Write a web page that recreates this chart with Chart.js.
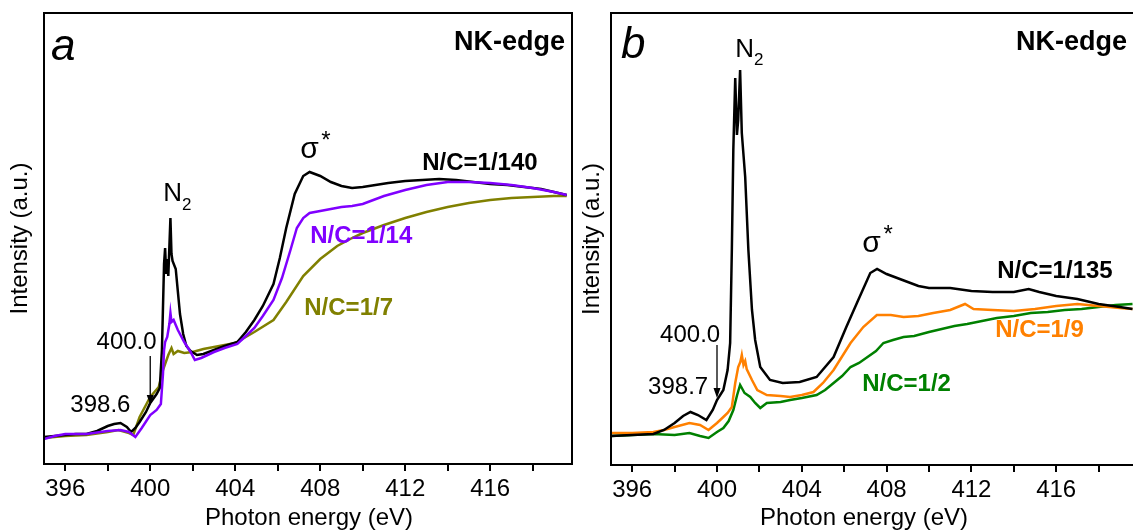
<!DOCTYPE html>
<html>
<head>
<meta charset="utf-8">
<script src="https://cdn.jsdelivr.net/npm/chart.js@4.4.0/dist/chart.umd.min.js"></script>
<style>
  html, body { margin: 0; padding: 0; background: #fff; overflow: hidden; width: 1133px; height: 531px; }
  #wa { position: absolute; left: 0; top: 0; width: 580px; height: 531px; }
  #wb { position: absolute; left: 580px; top: 0; width: 570px; height: 531px; }
</style>
</head>
<body>
<div id="wa"><canvas id="ca"></canvas></div>
<div id="wb"><canvas id="cb"></canvas></div>
<script>
// x axis ticks (eV): labelled and unlabelled
const labelTicks = [396, 400, 404, 408, 412, 416];
const minorTicks = [398, 402, 406, 410, 414, 418];

// panel a: N/C = 1/140, 1/14, 1/7
const a140E = [395.0,395.5,396.0,396.5,397.0,397.5,398.0,398.3,398.6,398.9,399.1,399.3,399.5,399.8,400.0,400.3,400.45,400.55,400.65,400.7,400.75,400.8,400.85,400.95,401.0,401.05,401.2,401.4,401.55,401.7,401.9,402.2,402.5,403.0,403.5,404.1,404.5,404.9,405.3,405.8,406.1,406.4,406.8,407.2,407.5,408.0,408.5,409.0,409.5,410.0,410.6,411.2,412.0,412.8,413.6,414.4,415.2,416.0,416.8,417.6,418.4,419.0,419.6];
const a140I = [0.27,0.28,0.29,0.30,0.30,0.33,0.38,0.40,0.41,0.37,0.32,0.36,0.42,0.52,0.61,0.70,0.76,1.14,2.00,2.16,1.90,2.05,1.88,2.46,2.10,2.03,1.95,1.50,1.30,1.18,1.13,1.09,1.10,1.14,1.18,1.22,1.32,1.44,1.58,1.80,2.06,2.36,2.70,2.88,2.92,2.88,2.82,2.78,2.76,2.77,2.79,2.81,2.83,2.84,2.85,2.84,2.82,2.80,2.79,2.77,2.75,2.72,2.69];

const a14E = [395.0,395.5,396.0,397.0,398.0,398.6,399.0,399.3,399.6,400.0,400.3,400.5,400.6,400.65,400.7,400.8,400.9,400.95,401.0,401.1,401.3,401.6,401.9,402.1,402.4,403.0,403.5,404.1,404.5,404.9,405.3,405.8,406.2,406.6,406.9,407.2,407.5,408.0,408.5,409.0,409.5,410.0,410.5,411.0,411.5,412.0,413.0,414.0,415.0,416.0,417.0,418.0,419.0,419.6];
const a14I = [0.25,0.28,0.30,0.30,0.33,0.34,0.32,0.27,0.36,0.49,0.54,0.60,0.90,1.14,1.22,1.27,1.40,1.51,1.42,1.44,1.34,1.22,1.12,1.04,1.06,1.12,1.16,1.20,1.28,1.36,1.48,1.64,1.86,2.14,2.36,2.46,2.51,2.53,2.55,2.57,2.58,2.60,2.64,2.68,2.71,2.74,2.79,2.82,2.82,2.81,2.79,2.76,2.72,2.69];

const a7E = [395.0,396.0,397.0,398.0,398.5,399.0,399.2,399.5,400.0,400.4,400.6,400.85,401.0,401.1,401.3,401.6,402.0,402.5,403.0,403.5,404.0,404.9,405.8,406.4,407.2,408.0,408.8,409.5,410.0,411.0,412.0,413.0,414.0,415.0,416.0,417.0,418.0,419.0,419.6];
const a7I = [0.26,0.28,0.29,0.32,0.34,0.31,0.29,0.47,0.67,0.77,0.94,1.09,1.16,1.10,1.13,1.11,1.12,1.15,1.17,1.19,1.21,1.32,1.44,1.62,1.88,2.05,2.18,2.26,2.31,2.39,2.46,2.52,2.57,2.61,2.64,2.66,2.67,2.68,2.68];

// panel b: N/C = 1/135, 1/9, 1/2
const b135E = [395.0,396.0,397.0,397.5,398.0,398.4,398.75,399.1,399.5,399.8,400.0,400.3,400.5,400.62,400.7,400.77,400.86,400.94,401.0,401.09,401.17,401.33,401.48,401.65,401.8,402.04,402.5,403.1,403.9,404.7,405.5,406.1,406.6,407.23,407.55,408.0,408.5,409.0,409.5,410.0,411.0,412.0,413.0,414.0,414.7,415.2,416.0,417.0,418.0,419.0,419.6];
const b135I = [0.29,0.30,0.31,0.35,0.42,0.49,0.53,0.50,0.45,0.55,0.65,0.75,0.95,1.22,2.15,3.15,3.87,3.30,3.45,3.95,3.32,2.88,2.15,1.55,1.25,0.98,0.85,0.82,0.83,0.88,1.08,1.38,1.62,1.92,1.96,1.91,1.87,1.83,1.79,1.77,1.77,1.74,1.73,1.73,1.76,1.73,1.69,1.66,1.61,1.58,1.56];

const b9E = [395.0,396.0,397.0,397.5,398.0,398.7,399.2,399.6,400.0,400.3,400.5,400.7,400.86,401.0,401.1,401.17,401.25,401.33,401.4,401.65,401.9,402.35,403.0,403.45,404.0,404.55,405.0,405.5,406.3,406.9,407.54,408.2,408.8,409.5,410.2,411.0,411.7,412.1,413.0,414.0,415.0,416.0,417.0,418.0,419.0,419.6];
const b9I = [0.32,0.32,0.33,0.35,0.38,0.42,0.40,0.35,0.42,0.48,0.52,0.58,0.82,0.98,1.03,1.10,1.00,1.04,0.96,0.85,0.75,0.70,0.69,0.68,0.70,0.73,0.82,0.95,1.22,1.38,1.50,1.50,1.48,1.49,1.52,1.55,1.61,1.56,1.55,1.54,1.56,1.59,1.61,1.59,1.57,1.56];

const b2E = [395.0,396.0,397.0,398.0,398.7,399.2,399.6,400.0,400.3,400.55,400.77,400.95,401.09,401.3,401.57,401.8,402.04,402.35,403.0,403.45,404.0,404.7,405.1,405.5,405.9,406.3,406.7,407.1,407.5,407.85,408.3,408.8,409.3,410.0,410.6,411.2,411.8,412.5,413.2,414.0,414.8,415.6,416.4,417.2,418.0,418.8,419.6];
const b2I = [0.29,0.30,0.31,0.30,0.32,0.29,0.27,0.33,0.37,0.44,0.55,0.70,0.80,0.72,0.68,0.62,0.57,0.62,0.63,0.65,0.67,0.70,0.75,0.82,0.89,0.98,1.02,1.08,1.14,1.22,1.25,1.28,1.29,1.33,1.36,1.39,1.41,1.44,1.47,1.49,1.52,1.53,1.55,1.56,1.58,1.60,1.61];

const FONT = '"Liberation Sans", Arial, sans-serif';

const pts = (xs, ys) => xs.map((x, i) => ({ x: x, y: ys[i] }));
const series = (xs, ys, color) => ({ data: pts(xs, ys), borderColor: color, borderWidth: 2.5, pointRadius: 0, tension: 0, fill: false });
const allTicks = labelTicks.concat(minorTicks).sort((p, q) => p - q);

function decorations(cfg) {
  return {
    id: 'decorations',
    afterDraw(chart) {
      const { ctx, chartArea: ca, scales } = chart;
      ctx.save();
      // frame
      ctx.strokeStyle = '#000';
      ctx.lineWidth = 2;
      ctx.strokeRect(ca.left, ca.top, ca.right - ca.left, ca.bottom - ca.top);
      // axis titles
      ctx.fillStyle = '#000';
      ctx.font = '24px ' + FONT;
      ctx.textAlign = 'center';
      ctx.textBaseline = 'alphabetic';
      ctx.fillText('Photon energy (eV)', cfg.xTitleX, 525);
      ctx.save();
      ctx.translate(cfg.yTitleX, (ca.top + ca.bottom) / 2);
      ctx.rotate(-Math.PI / 2);
      ctx.textBaseline = 'middle';
      ctx.fillText('Intensity (a.u.)', 0, 0);
      ctx.restore();
      // text notes
      cfg.notes.forEach(n => {
        ctx.font = n.font;
        ctx.fillStyle = n.color || '#000';
        ctx.textAlign = n.align || 'left';
        ctx.textBaseline = 'alphabetic';
        const px = n.px != null ? n.px : scales.x.getPixelForValue(n.x);
        const py = n.py != null ? n.py : scales.y.getPixelForValue(n.y);
        ctx.fillText(n.text, px, py);
      });
      // arrows
      cfg.arrows.forEach(a => {
        const px = scales.x.getPixelForValue(a.x);
        const y1 = scales.y.getPixelForValue(a.from);
        const y2 = scales.y.getPixelForValue(a.to);
        ctx.strokeStyle = '#000';
        ctx.lineWidth = 1.3;
        ctx.beginPath();
        ctx.moveTo(px, y1);
        ctx.lineTo(px, y2 - 8);
        ctx.stroke();
        ctx.fillStyle = '#000';
        ctx.beginPath();
        ctx.moveTo(px - 3.5, y2 - 10);
        ctx.lineTo(px + 3.5, y2 - 10);
        ctx.lineTo(px, y2);
        ctx.closePath();
        ctx.fill();
      });
      ctx.restore();
    }
  };
}

function panel(id, datasets, xMax, yMax, pad, axisH, cfg) {
  return new Chart(document.getElementById(id), {
    type: 'line',
    data: { datasets: datasets },
    options: {
      responsive: true,
      maintainAspectRatio: false,
      animation: false,
      layout: { padding: pad },
      plugins: { legend: { display: false }, tooltip: { enabled: false } },
      scales: {
        x: {
          type: 'linear',
          min: 395,
          max: xMax,
          afterFit: s => { s.height = axisH; },
          afterBuildTicks: s => { s.ticks = allTicks.map(v => ({ value: v })); },
          border: { display: false },
          grid: {
            drawOnChartArea: false,
            tickLength: 7,
            lineWidth: 2,
            tickColor: '#000'
          },
          ticks: {
            autoSkip: false,
            maxRotation: 0,
            padding: 4,
            color: '#000',
            font: { family: FONT, size: 24 },
            callback: v => labelTicks.includes(v) ? String(v) : ''
          }
        },
        y: { display: false, min: 0, max: yMax }
      }
    },
    plugins: [decorations(cfg)]
  });
}

const noteFont = '24px ' + FONT;
const labelFont = 'bold 24px ' + FONT;

panel('ca', [
  series(a14E, a14I, '#8000FF'),
  series(a140E, a140I, '#000000'),
  series(a7E, a7I, '#808000')
], 419.85, 4.51, { left: 44, right: 8, top: 13, bottom: 0 }, 67, {
  xTitleX: 309,
  yTitleX: 20,
  notes: [
    { text: 'a', px: 51, py: 60, font: 'italic 44px ' + FONT },
    { text: 'NK-edge', px: 565, py: 50, font: 'bold 27px ' + FONT, align: 'right' },
    { text: 'N', x: 400.61, y: 2.63, font: '26px ' + FONT },
    { text: '2', x: 401.5, y: 2.54, font: '17px ' + FONT },
    { text: 'σ', x: 407.06, y: 3.06, font: '30px ' + FONT },
    { text: '*', x: 408.05, y: 3.16, font: '24px ' + FONT },
    { text: 'N/C=1/140', x: 412.8, y: 2.94, font: labelFont },
    { text: 'N/C=1/14', x: 407.53, y: 2.21, font: labelFont, color: '#8000FF' },
    { text: 'N/C=1/7', x: 407.25, y: 1.49, font: labelFont, color: '#808000' },
    { text: '400.0', x: 400.3, y: 1.15, font: noteFont, align: 'right' },
    { text: '398.6', x: 396.24, y: 0.52, font: noteFont }
  ],
  arrows: [{ x: 400.0, from: 1.08, to: 0.59 }]
});

panel('cb', [
  series(b135E, b135I, '#000000'),
  series(b9E, b9I, '#FF8000'),
  series(b2E, b2I, '#008000')
], 420, 4.52, { left: 31, right: 9, top: 13, bottom: 0 }, 66, {
  xTitleX: 284,
  yTitleX: 12,
  notes: [
    { text: 'b', px: 41, py: 58, font: 'italic 44px ' + FONT },
    { text: 'NK-edge', px: 547, py: 50, font: 'bold 27px ' + FONT, align: 'right' },
    { text: 'N', x: 400.86, y: 4.08, font: '26px ' + FONT },
    { text: '2', x: 401.75, y: 4.0, font: '17px ' + FONT },
    { text: 'σ', x: 406.85, y: 2.13, font: '30px ' + FONT },
    { text: '*', x: 407.85, y: 2.23, font: '24px ' + FONT },
    { text: 'N/C=1/135', x: 413.22, y: 1.87, font: labelFont },
    { text: 'N/C=1/9', x: 413.12, y: 1.28, font: labelFont, color: '#FF8000' },
    { text: 'N/C=1/2', x: 406.85, y: 0.74, font: labelFont, color: '#008000' },
    { text: '400.0', x: 400.15, y: 1.23, font: noteFont, align: 'right' },
    { text: '398.7', x: 396.75, y: 0.71, font: noteFont }
  ],
  arrows: [{ x: 400.0, from: 1.20, to: 0.67 }]
});
</script>
</body>
</html>
